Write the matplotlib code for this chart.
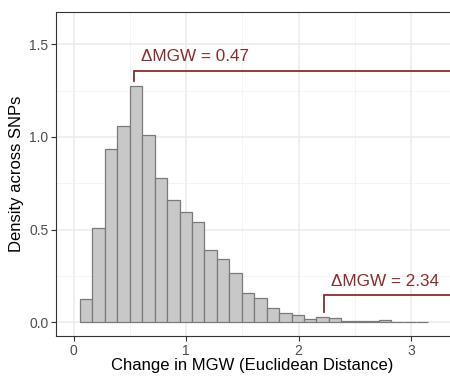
import numpy as np
import matplotlib
matplotlib.use("Agg")
import matplotlib.pyplot as plt

plt.rcParams["font.family"] = ["Liberation Sans", "DejaVu Sans"]

# histogram of MGW change (density scale)
bin_start = 0.056
bin_width = 0.1107
density = [0.124, 0.510, 0.935, 1.060, 1.276, 1.010, 0.780, 0.660, 0.597, 0.541,
           0.392, 0.341, 0.264, 0.156, 0.129, 0.075, 0.052, 0.041, 0.019, 0.030,
           0.022, 0.007, 0.007, 0.007, 0.012, 0.003, 0.003, 0.003]

# bracket annotations: (x of drop, y of bar top, y of bracket, label)
ann_x = [0.54, 2.227]
ann_low = [1.303, 0.054]
ann_high = [1.357, 0.147]
ann_labels = ["ΔMGW = 0.47", "ΔMGW = 2.34"]
ann_end = 4.3

x_ticks = [0, 1, 2, 3]
y_ticks = [0.0, 0.5, 1.0, 1.5]

red = "#8B2B2B"
W, H = 450, 377
fig = plt.figure(figsize=(W / 100, H / 100), dpi=100)
ax = fig.add_axes([56 / W, 41 / H, (583 - 56) / W, 324 / H])

edges = bin_start + bin_width * np.arange(len(density) + 1)
ax.bar(edges[:-1], density, width=np.diff(edges), align="edge",
       color="#C8C8C8", edgecolor="#7A7A7A", linewidth=0.9, zorder=3)

for x, lo, hi, lab in zip(ann_x, ann_low, ann_high, ann_labels):
    ax.plot([x, x, ann_end], [lo, hi, hi], color=red, lw=1.3, zorder=4,
            solid_joinstyle="miter")
    ax.text(x + 0.06, hi + 0.035, lab, color=red, fontsize=12.3,
            ha="left", va="bottom", zorder=5)

ax.set_xlim(-0.157, 4.53)
ax.set_ylim(-0.074, 1.674)
ax.set_xticks(x_ticks)
ax.set_xticklabels([str(t) for t in x_ticks])
ax.set_yticks(y_ticks)
ax.set_yticklabels([f"{t:.1f}" for t in y_ticks])
ax.set_xticks(np.arange(0.5, 4.5, 1.0), minor=True)
ax.set_yticks(np.arange(0.25, 1.75, 0.5), minor=True)
ax.grid(which="major", color="#EBEBEB", lw=1.1, zorder=0)
ax.grid(which="minor", color="#F2F2F2", lw=0.6, zorder=0)
ax.set_axisbelow(True)
ax.tick_params(which="major", length=3.5, width=0.8, color="#333333",
               labelsize=10, labelcolor="#4D4D4D", pad=2)
ax.tick_params(which="minor", length=0)
for s in ax.spines.values():
    s.set_color("#333333")
    s.set_linewidth(0.8)

ax.set_ylabel("Density across SNPs", fontsize=12, labelpad=4)
fig.text(252 / W, 1 - 370 / H, "Change in MGW (Euclidean Distance)",
         fontsize=12, ha="center", va="baseline")

fig.savefig("out.png", dpi=100)
